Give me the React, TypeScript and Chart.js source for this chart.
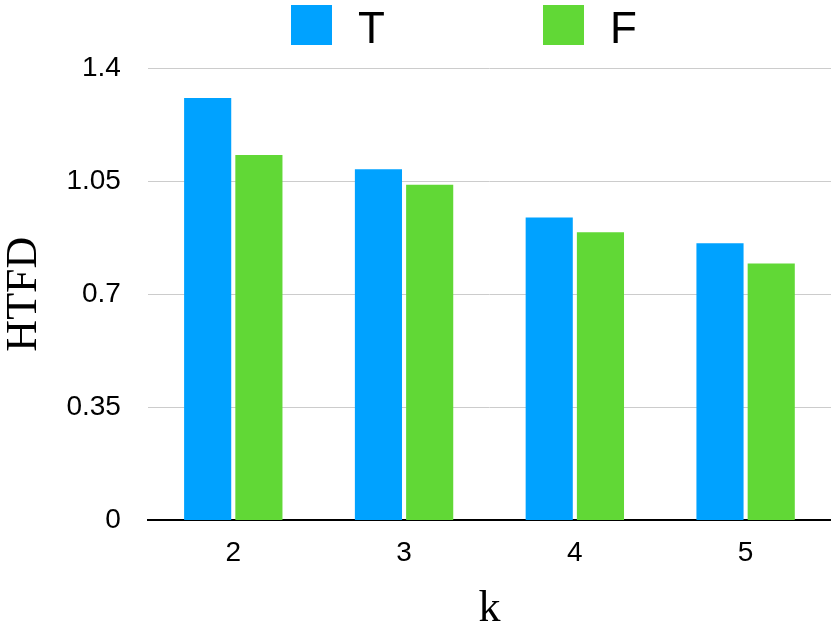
import React, { useEffect, useRef } from "react";
import { Chart, registerables } from "chart.js";

Chart.register(...registerables);

const categories = ["2", "3", "4", "5"];
const seriesT = [1.307, 1.087, 0.937, 0.858];
const seriesF = [1.131, 1.039, 0.892, 0.795];
const yTicks = [0, 0.35, 0.7, 1.05, 1.4];
const seriesLabels = ["T", "F"];

const BLUE = "#00A2FF";
const GREEN = "#61D836";

const legendPlugin = {
  id: "customLegend",
  afterDraw(chart: any) {
    const ctx = chart.ctx;
    const xs = [291, 543];
    ctx.save();
    chart.data.datasets.forEach((ds: any, i: number) => {
      const x = xs[i];
      ctx.fillStyle = ds.backgroundColor;
      ctx.fillRect(x, 5, 41, 40);
      ctx.fillStyle = "#000";
      ctx.font = "44px 'Liberation Sans', Arial, sans-serif";
      ctx.textBaseline = "alphabetic";
      ctx.textAlign = "left";
      ctx.fillText(ds.label, x + 67, 43);
    });
    ctx.restore();
  },
};

export default function App() {
  const ref = useRef<HTMLCanvasElement | null>(null);
  useEffect(() => {
    if (!ref.current) return;
    const chart = new Chart(ref.current, {
      type: "bar",
      data: {
        labels: categories,
        datasets: [
          {
            label: seriesLabels[0],
            data: seriesT,
            backgroundColor: BLUE,
            borderWidth: 0,
            categoryPercentage: 0.6,
            barPercentage: 0.92,
          },
          {
            label: seriesLabels[1],
            data: seriesF,
            backgroundColor: GREEN,
            borderWidth: 0,
            categoryPercentage: 0.6,
            barPercentage: 0.92,
          },
        ],
      },
      plugins: [legendPlugin],
      options: {
        animation: false,
        responsive: true,
        maintainAspectRatio: false,
        layout: { padding: { top: 68, left: 0, right: 0, bottom: 0 } },
        plugins: {
          legend: { display: false },
          tooltip: { enabled: false },
        },
        scales: {
          x: {
            grid: { display: false, drawTicks: false },
            border: { display: true, color: "#000", width: 2 },
            ticks: {
              color: "#000",
              padding: 16,
              font: { family: "'Liberation Sans', Arial, sans-serif", size: 28 },
            },
            title: {
              display: true,
              text: "k",
              color: "#000",
              padding: { top: 1, bottom: 0 },
              font: { family: "'Liberation Serif', 'Times New Roman', serif", size: 44, lineHeight: 1.0 },
            },
          },
          y: {
            min: 0,
            max: 1.4,
            afterBuildTicks: (axis: any) => {
              axis.ticks = yTicks.map((v) => ({ value: v }));
            },
            grid: { color: "#cccccc", lineWidth: 1, drawTicks: false },
            border: { display: false },
            ticks: {
              color: "#000",
              padding: 27,
              callback: (v: any) => String(v),
              font: { family: "'Liberation Sans', Arial, sans-serif", size: 28 },
            },
            title: {
              display: true,
              text: "HTFD",
              color: "#000",
              padding: { top: 0, bottom: -9 },
              font: { family: "'Liberation Serif', 'Times New Roman', serif", size: 44, lineHeight: 1.1 },
            },
          },
        },
      },
    });
    return () => chart.destroy();
  }, []);
  return (
    <div style={{ position: "fixed", left: 0, top: 0, width: 831, height: 631, background: "#fff" }}>
      <canvas ref={ref} />
    </div>
  );
}
